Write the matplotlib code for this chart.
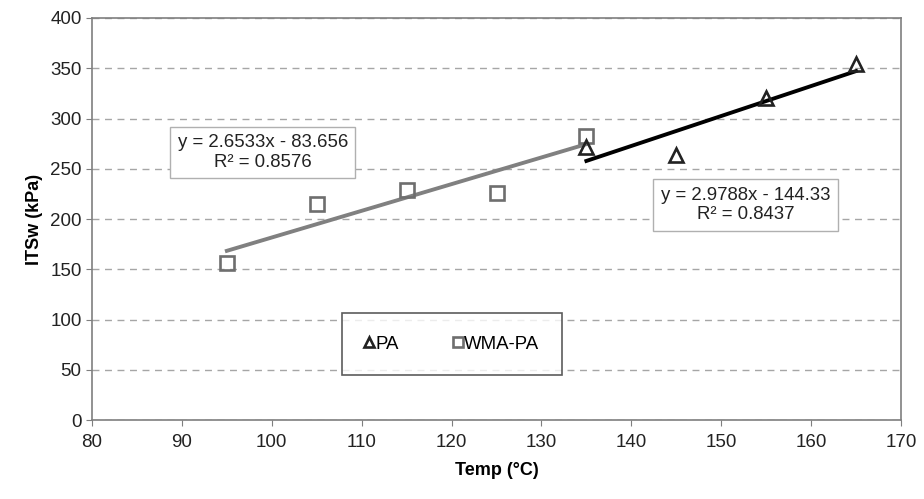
import matplotlib.pyplot as plt
import numpy as np

plt.rcParams['font.family'] = ['Liberation Sans', 'DejaVu Sans']

# Data
pa_temp = [135, 145, 155, 165]
pa_itsw = [272, 264, 320, 354]
wma_temp = [95, 105, 115, 125, 135]
wma_itsw = [156, 215, 229, 226, 283]

# Trendline coefficients as printed on the chart
pa_fit = (2.9788, -144.33)
wma_fit = (2.6533, -83.656)

x_ticks = np.arange(80, 171, 10)
y_ticks = np.arange(0, 401, 50)

GRID = '#a6a6a6'
FRAME = '#7f7f7f'
WMA_GRAY = '#808080'

fig = plt.figure(figsize=(9.24, 4.99), dpi=100)
ax = fig.add_axes([0.0996, 0.158, 0.8755, 0.806])

# trend lines
xw = np.array([wma_temp[0], wma_temp[-1]])
ax.plot(xw, wma_fit[0] * xw + wma_fit[1], color=WMA_GRAY, linewidth=2.8, zorder=3)
xp = np.array([pa_temp[0], pa_temp[-1]])
ax.plot(xp, pa_fit[0] * xp + pa_fit[1], color='black', linewidth=2.8, zorder=3)

# markers
ax.plot(wma_temp, wma_itsw, linestyle='none', marker='s', markersize=10,
        markerfacecolor='none', markeredgecolor='#6e6e6e', markeredgewidth=1.9,
        label='WMA-PA', zorder=4)
ax.plot(pa_temp, pa_itsw, linestyle='none', marker='^', markersize=10.5,
        markerfacecolor='none', markeredgecolor='#222222', markeredgewidth=1.9,
        label='PA', zorder=5)

ax.set_xlim(80, 170)
ax.set_ylim(0, 400)
ax.set_xticks(x_ticks)
ax.set_yticks(y_ticks)
ax.tick_params(axis='both', labelsize=13.5, colors=FRAME, labelcolor='#222222',
               direction='out', length=4)
ax.tick_params(axis='x', pad=6)
ax.yaxis.grid(True, linestyle=(0, (5, 4)), color=GRID, linewidth=1)
ax.set_axisbelow(True)
for sp in ax.spines.values():
    sp.set_color(FRAME)
    sp.set_linewidth(1.2)

ax.set_xlabel('Temp (°C)', fontsize=13, fontweight='bold', labelpad=8)
ax.set_ylabel('ITSw (kPa)', fontsize=13, fontweight='bold', labelpad=5)

box = dict(boxstyle='square,pad=0.4', facecolor='white', edgecolor='#b0b0b0', linewidth=1)
ax.text(99.0, 266, 'y = 2.6533x - 83.656\nR² = 0.8576', fontsize=13.4, ha='center',
        va='center', multialignment='center', bbox=box, zorder=6, color='#222222')
ax.text(152.7, 214, 'y = 2.9788x - 144.33\nR² = 0.8437', fontsize=13.4, ha='center',
        va='center', multialignment='center', bbox=box, zorder=6, color='#222222')

handles, labels = ax.get_legend_handles_labels()
leg = ax.legend(handles[::-1], labels[::-1], loc='center', bbox_to_anchor=(0.445, 0.189),
                ncol=2, fontsize=13.4, frameon=True, fancybox=False, handlelength=0.5,
                handletextpad=0.1, columnspacing=2.9, borderpad=1.2, borderaxespad=0,
                markerscale=0.75)
leg.get_frame().set_edgecolor('#333333')
leg.get_frame().set_linewidth(1.2)

plt.savefig('out.png', dpi=100)
